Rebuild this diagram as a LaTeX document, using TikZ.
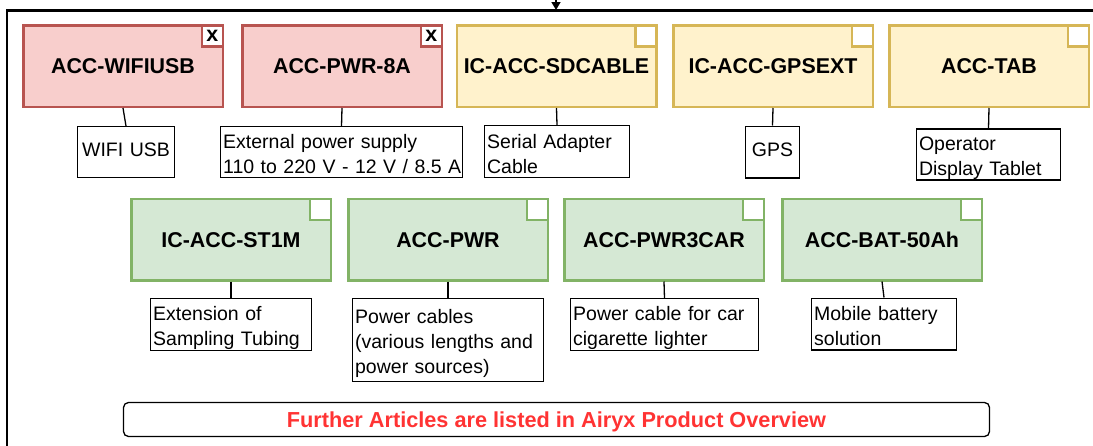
\documentclass[tikz,border=0pt]{standalone}
\usepackage{fontspec}
\setmainfont{Liberation Sans}
\usetikzlibrary{arrows.meta}
\definecolor{redfill}{HTML}{F8CECC}
\definecolor{redline}{HTML}{B85450}
\definecolor{yelfill}{HTML}{FFF2CC}
\definecolor{yelline}{HTML}{D6B656}
\definecolor{grnfill}{HTML}{D5E8D4}
\definecolor{grnline}{HTML}{82B366}
\definecolor{notered}{HTML}{FF3333}
\newcommand\titlefnt{\fontsize{21.4}{25}\selectfont\bfseries}
\newcommand\notefnt{\fontsize{21.7}{25}\selectfont\bfseries}
\newcommand\descfnt{\fontsize{19.5}{25}\selectfont}
\newcommand\dst{\rule[-5.5pt]{0pt}{19.5pt}}
\newcommand\dfirst{\rule{0pt}{21.5pt}}
\newcommand\dlast{\rule[-3.5pt]{0pt}{0pt}}
\tikzset{
  article/.style={draw, line width=2.5pt, minimum width=199.5pt, minimum height=81.5pt, inner sep=0pt, text height=15pt, text depth=0pt, font=\titlefnt},
  redart/.style={article, draw=redline, fill=redfill},
  yelart/.style={article, draw=yelline, fill=yelfill},
  grnart/.style={article, draw=grnline, fill=grnfill},
  cornerbox/.style={draw, line width=2.5pt, fill=white, anchor=north east, minimum size=21pt, inner sep=0pt, font=\titlefnt},
  desc/.style={draw, line width=1.3pt, fill=white, inner xsep=2.5pt, inner ysep=0pt, align=left, font=\descfnt},
  link/.style={draw, line width=1.3pt},
  frame/.style={line width=2.5pt},
}
\begin{document}
\begin{tikzpicture}[x=1pt,y=-1pt]
\useasboundingbox (0,0) rectangle (1093,445);
% outer frame
\coordinate (fl) at (7,446);
\coordinate (fc) at (7,10.5);
\coordinate (fr) at (1094,10.5);
\draw[frame] (fl) -- (fc) -- (fr);
\coordinate (atop) at (556,-2);
\coordinate (atip) at (556,10);
\draw[line width=1.5pt, -{Triangle[length=8pt,width=9pt]}] (atop) -- (atip);
% row 1 articles
\node[redart] (b1) at (123,66) {ACC-WIFIUSB};
\node[redart] (b2) at (342,66) {ACC-PWR-8A};
\node[yelart] (b3) at (556.5,66) {IC-ACC-SDCABLE};
\node[yelart] (b4) at (773,66) {IC-ACC-GPSEXT};
\node[yelart] (b5) at (989,66) {ACC-TAB};
\node[cornerbox, draw=redline] (c1) at (b1.north east) {x};
\node[cornerbox, draw=redline] (c2) at (b2.north east) {x};
\node[cornerbox, draw=yelline] (c3) at (b3.north east) {};
\node[cornerbox, draw=yelline] (c4) at (b4.north east) {};
\node[cornerbox, draw=yelline] (c5) at (b5.north east) {};
% row 1 descriptions
\node[desc, align=center, text width=91.7pt, minimum height=50.7pt] (d1) at (126,152) {\dst WIFI USB};
\node[desc, text width=236.7pt, minimum height=50.7pt] (d2) at (341.5,152) {\dfirst\mbox{External power supply}\\\mbox{110 to 220 V - 12 V / 8.5 A}\dlast};
\node[desc, text width=139.7pt, minimum height=51.7pt] (d3) at (557,151.5) {\dfirst Serial Adapter\\Cable\dlast};
\node[desc, align=center, text width=48.7pt, minimum height=51.7pt] (d4) at (772.5,152) {\dst GPS};
\node[desc, text width=139pt, minimum height=51pt] (d5) at (988.5,154.5) {\dfirst Operator\\Display Tablet\dlast};
% row 2 articles
\node[grnart] (g1) at (231,239.5) {IC-ACC-ST1M};
\node[grnart] (g2) at (448,239.5) {ACC-PWR};
\node[grnart] (g3) at (664,239.5) {ACC-PWR3CAR};
\node[grnart] (g4) at (882,239.5) {ACC-BAT-50Ah};
\node[cornerbox, draw=grnline] (gc1) at (g1.north east) {};
\node[cornerbox, draw=grnline] (gc2) at (g2.north east) {};
\node[cornerbox, draw=grnline] (gc3) at (g3.north east) {};
\node[cornerbox, draw=grnline] (gc4) at (g4.north east) {};
% row 2 descriptions
\node[desc, text width=155.7pt, minimum height=51.7pt] (e1) at (231,324.5) {\dfirst Extension of\\Sampling Tubing\dlast};
\node[desc, text width=185.7pt, minimum height=82.7pt] (e2) at (448,340) {\dfirst Power cables\\(various lengths and\\power sources)\dlast};
\node[desc, text width=182.7pt, minimum height=51.7pt] (e3) at (664.5,324.5) {\dfirst Power cable for car\\cigarette lighter\dlast};
\node[desc, text width=139.7pt, minimum height=51.7pt] (e4) at (884,324) {\dfirst Mobile battery\\solution\dlast};
% connectors
\draw[link] (b1.south) -- (d1.north);
\draw[link] (b2.south) -- (d2.north);
\draw[link] (b3.south) -- (d3.north);
\draw[link] (b4.south) -- (d4.north);
\draw[link] (b5.south) -- (d5.north);
\draw[link] (g1.south) -- (e1.north);
\draw[link] (g2.south) -- (e2.north);
\draw[link] (g3.south) -- (e3.north);
\draw[link] (g4.south) -- (e4.north);
% note
\node[draw, line width=1.3pt, rounded corners=5pt, minimum width=866pt, minimum height=34pt, inner sep=0pt, text height=15.5pt, text depth=0pt, text=notered, font=\notefnt] (note) at (556.5,419.5) {Further Articles are listed in Airyx Product Overview};
\end{tikzpicture}
\end{document}
